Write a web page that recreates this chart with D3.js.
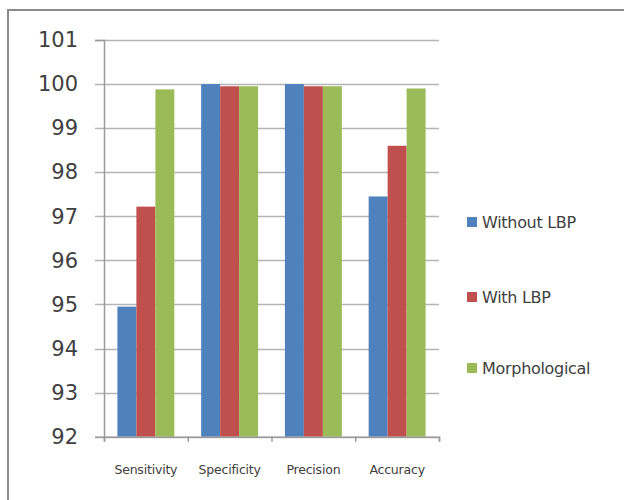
<!DOCTYPE html>
<html><head><meta charset="utf-8">
<script src="https://cdn.jsdelivr.net/npm/d3@7"></script>
<style>body{margin:0;background:#fff}svg{display:block}</style>
</head><body>
<script>
const categories = ["Sensitivity", "Specificity", "Precision", "Accuracy"];
const seriesNames = ["Without LBP", "With LBP", "Morphological"];
const withoutLBP = [94.95, 100, 100, 97.45];
const withLBP = [97.22, 99.95, 99.95, 98.6];
const morphological = [99.88, 99.95, 99.95, 99.9];
const yTicks = [92, 93, 94, 95, 96, 97, 98, 99, 100, 101];
const colors = ["#4f81bd", "#c0504d", "#9bbb59"];
const seriesValues = [withoutLBP, withLBP, morphological];

(function () {
const W = 624, H = 500;
const svg = d3.select("body").append("svg").attr("width", W).attr("height", H);
svg.append("rect").attr("width", W).attr("height", H).attr("fill", "#fff");
svg.append("rect").attr("x", 8).attr("y", 10).attr("width", 640).attr("height", 520)
  .attr("fill", "none").attr("stroke", "#8a8a8a").attr("stroke-width", 2);

const pL = 104, pR = 439, pT = 40, pB = 436.7;
const y = d3.scaleLinear().domain([92, 101]).range([pB, pT]);
const x0 = d3.scaleBand().domain(categories).range([pL, pR]).paddingInner(0.32).paddingOuter(0.16);
const x1 = d3.scaleBand().domain(seriesNames).range([0, x0.bandwidth()]);

// gridlines
svg.append("g").selectAll("line").data(yTicks).join("line")
  .attr("x1", pL - 9).attr("x2", pR)
  .attr("y1", d => Math.round(y(d)) + 0.5).attr("y2", d => Math.round(y(d)) + 0.5)
  .attr("stroke", "#b4b4b4").attr("stroke-width", 1.5);

// bars
const data = categories.flatMap((c, i) => seriesNames.map((s, j) => ({c, s, v: seriesValues[j][i], color: colors[j]})));
svg.append("g").selectAll("rect").data(data).join("rect")
  .attr("x", d => x0(d.c) + x1(d.s))
  .attr("width", x1.bandwidth())
  .attr("y", d => y(d.v))
  .attr("height", d => y(92) - y(d.v))
  .attr("fill", d => d.color);

// y axis
const yAxis = svg.append("g").attr("transform", `translate(${pL},0)`)
  .call(d3.axisLeft(y).tickValues(yTicks).tickSize(9).tickFormat(d3.format("d")));
yAxis.select(".domain").attr("stroke", "#9a9a9a").attr("stroke-width", 1.5);
yAxis.selectAll(".tick line").remove();
yAxis.selectAll("text").attr("x", -26).attr("fill", "#404040")
  .style("font-family", "'DejaVu Sans', sans-serif").style("font-size", "21px");

// x axis
const xAxis = svg.append("g").attr("transform", `translate(0,${pB})`)
  .call(d3.axisBottom(d3.scaleLinear().domain([0, 4]).range([pL, pR])).tickValues([0,1,2,3,4]).tickSize(5).tickFormat(""));
xAxis.select(".domain").attr("stroke", "#9a9a9a").attr("stroke-width", 1.5);
xAxis.selectAll(".tick line").attr("stroke", "#9a9a9a").attr("stroke-width", 1.5);

svg.append("g").selectAll("text").data(categories).join("text")
  .attr("x", d => x0(d) + x0.bandwidth() / 2)
  .attr("y", 474)
  .attr("text-anchor", "middle")
  .attr("fill", "#404040")
  .style("font-family", "'DejaVu Sans', sans-serif").style("font-size", "12.5px")
  .style("letter-spacing", "-0.2px")
  .text(d => d);

// legend
const legY = [222, 297, 368];
const leg = svg.append("g").selectAll("g").data(seriesNames).join("g")
  .attr("transform", (d, i) => `translate(467,${legY[i]})`);
leg.append("rect").attr("x", 0).attr("y", -5).attr("width", 10).attr("height", 10).attr("fill", (d, i) => colors[i]);
leg.append("text").attr("x", 15).attr("y", 6).attr("fill", "#404040")
  .style("font-family", "'DejaVu Sans', sans-serif").style("font-size", "16px")
  .style("letter-spacing", "-0.3px")
  .text(d => d);
})();
</script>
</body></html>
